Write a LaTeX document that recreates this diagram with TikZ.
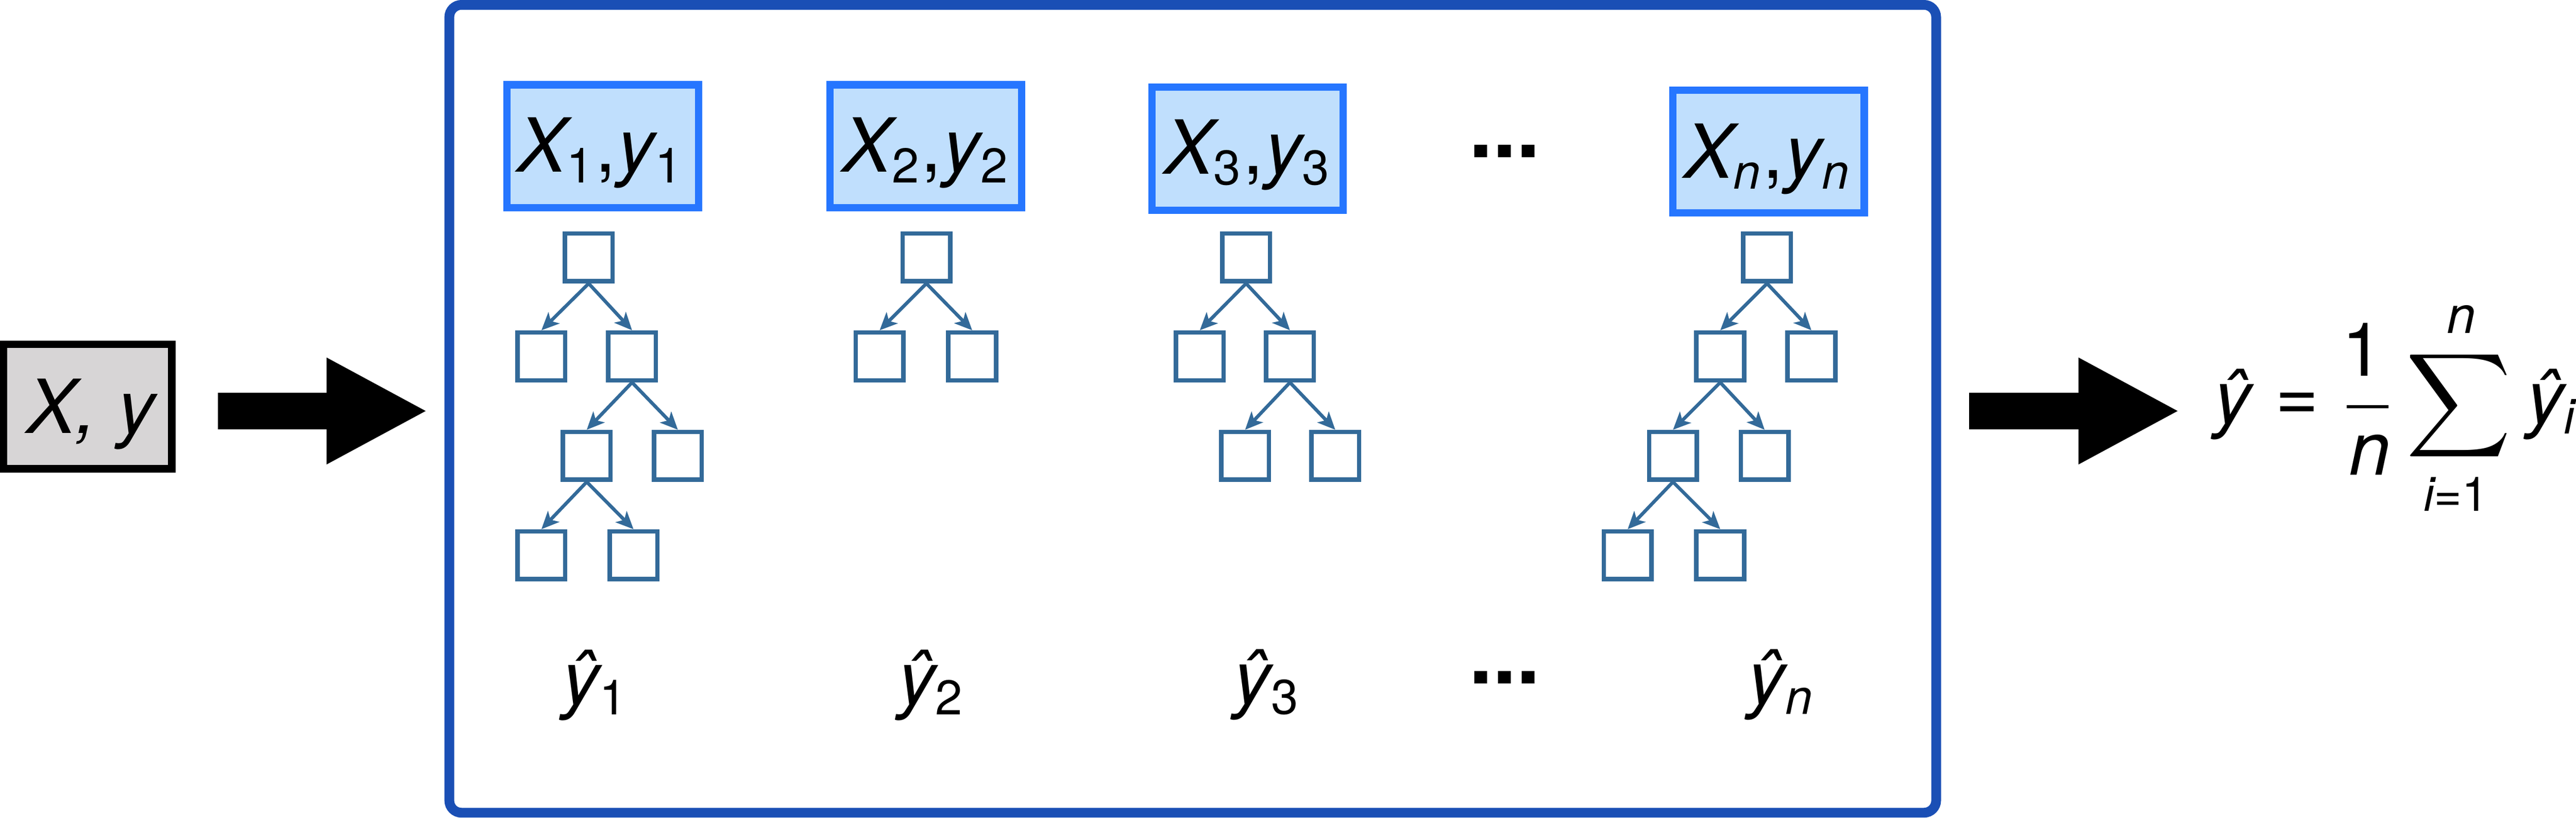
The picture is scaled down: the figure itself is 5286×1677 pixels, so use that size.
\documentclass[tikz,border=0pt]{standalone}
\usepackage{fontspec}
\usepackage{graphicx}
\setmainfont{TeX Gyre Heros}
\usetikzlibrary{arrows.meta}
\definecolor{treeblue}{HTML}{336A99}
\definecolor{bigblue}{HTML}{1A4FB5}
\definecolor{xfill}{HTML}{C0DFFD}
\definecolor{xborder}{HTML}{2676FF}
\definecolor{grayfill}{HTML}{D7D5D6}
\newcommand\mainsz{\fontsize{15.3pt}{18pt}\selectfont}
\newcommand\subsc[1]{\raisebox{-2.2pt}{\fontsize{10pt}{12pt}\selectfont #1}}
\newcommand\pair[1]{\mainsz\itshape X\subsc{\upshape #1}\upshape\kern0.4pt,\kern0.3pt\itshape y\subsc{\upshape #1}}
\newcommand\pairn{\mainsz\itshape X\subsc{n}\upshape\kern0.4pt,\kern0.3pt\itshape y\subsc{n}}
\begin{document}
\begin{tikzpicture}[x=0.1pt,y=-0.1pt,
  leaf/.style={draw=treeblue,line width=0.9pt,minimum size=9.8pt,inner sep=0pt},
  tarrow/.style={draw=treeblue,line width=0.7pt,-{Stealth[length=3.6pt,width=3.2pt,inset=0.9pt]}},
  xbox/.style={draw=xborder,fill=xfill,line width=1.5pt,minimum width=39.3pt,minimum height=25.2pt,inner sep=0pt},
  lbl/.style={inner sep=0pt,text=black},
  fat/.style={line width=7.5pt,-{Triangle[length=20.8pt,width=20.3pt]}}]
\useasboundingbox (0,0) rectangle (5286,1677);
% input
\node[draw=black,fill=grayfill,line width=1.5pt,minimum width=34.5pt,minimum height=25.5pt,inner sep=0pt] (in) at (180,834) {};
\node[lbl] (inl) at (186,849) {\mainsz\itshape X, y};
% big box
\draw[bigblue,line width=2pt,rounded corners=2.5pt] (922,10) rectangle (3973,1667);
% arrows
\coordinate (a1s) at (447,843);
\coordinate (a1e) at (878,843);
\coordinate (a2s) at (4041,843);
\coordinate (a2e) at (4473,843);
\draw[fat] (a1s) -- (a1e);
\draw[fat] (a2s) -- (a2e);
% sample boxes
\node[xbox] (b1) at (1237,300) {};
\node[xbox] (b2) at (1900,300) {};
\node[xbox] (b3) at (2560,305) {};
\node[xbox] (bn) at (3629,311) {};
\node[lbl] (l1) at (1230,314) {\pair{1}};
\node[lbl] (l2) at (1898,314) {\pair{2}};
\node[lbl] (l3) at (2558,318) {\pair{3}};
\node[lbl] (ln) at (3625,326) {\pairn};
\node[lbl] (dt) at (3088,310) {\fontsize{17.5pt}{20pt}\selectfont\bfseries ...};
% tree 1
\node[leaf] (t1r) at (1208,528) {};
\node[leaf] (t1a) at (1111,731) {};
\node[leaf] (t1b) at (1297,731) {};
\node[leaf] (t1c) at (1204,935) {};
\node[leaf] (t1d) at (1391,935) {};
\node[leaf] (t1e) at (1111,1139) {};
\node[leaf] (t1f) at (1300,1139) {};
\draw[tarrow] (t1r.south) -- (t1a.north);
\draw[tarrow] (t1r.south) -- (t1b.north);
\draw[tarrow] (t1b.south) -- (t1c.north);
\draw[tarrow] (t1b.south) -- (t1d.north);
\draw[tarrow] (t1c.south) -- (t1e.north);
\draw[tarrow] (t1c.south) -- (t1f.north);
% tree 2
\node[leaf] (t2r) at (1901,528) {};
\node[leaf] (t2a) at (1805,731) {};
\node[leaf] (t2b) at (1995,731) {};
\draw[tarrow] (t2r.south) -- (t2a.north);
\draw[tarrow] (t2r.south) -- (t2b.north);
% tree 3
\node[leaf] (t3r) at (2557,528) {};
\node[leaf] (t3a) at (2462,731) {};
\node[leaf] (t3b) at (2647,731) {};
\node[leaf] (t3c) at (2555,935) {};
\node[leaf] (t3d) at (2740,935) {};
\draw[tarrow] (t3r.south) -- (t3a.north);
\draw[tarrow] (t3r.south) -- (t3b.north);
\draw[tarrow] (t3b.south) -- (t3c.north);
\draw[tarrow] (t3b.south) -- (t3d.north);
% tree n
\node[leaf] (tnr) at (3626,528) {};
\node[leaf] (tna) at (3530,731) {};
\node[leaf] (tnb) at (3717,731) {};
\node[leaf] (tnc) at (3433,935) {};
\node[leaf] (tnd) at (3621,935) {};
\node[leaf] (tne) at (3340,1139) {};
\node[leaf] (tnf) at (3530,1139) {};
\draw[tarrow] (tnr.south) -- (tna.north);
\draw[tarrow] (tnr.south) -- (tnb.north);
\draw[tarrow] (tna.south) -- (tnc.north);
\draw[tarrow] (tna.south) -- (tnd.north);
\draw[tarrow] (tnc.south) -- (tne.north);
\draw[tarrow] (tnc.south) -- (tnf.north);
% predictions
\node[lbl] (p1) at (1220,1405) {\mainsz\itshape ŷ\subsc{\upshape 1}};
\node[lbl] (p2) at (1909,1405) {\mainsz\itshape ŷ\subsc{\upshape 2}};
\node[lbl] (p3) at (2598,1404) {\mainsz\itshape ŷ\subsc{\upshape 3}};
\node[lbl] (db) at (3088,1390) {\fontsize{17.5pt}{20pt}\selectfont\bfseries ...};
\node[lbl] (pn) at (3653,1404) {\mainsz\itshape ŷ\subsc{n}};
% formula
\node[lbl] (fy) at (4582,829) {\mainsz\itshape ŷ};
\node[lbl] (feq) at (4714,834.5) {\mainsz =};
\node[lbl] (fone) at (4848,717) {\mainsz 1};
\node[lbl] (fden) at (4863,933) {\mainsz\itshape n};
\coordinate (barL) at (4815,834);
\coordinate (barR) at (4901,834);
\draw[line width=0.6pt] (barL) -- (barR);
\node[lbl] (fsum) at (5045,832) {\scalebox{1.49}{$\displaystyle\sum$}};
\node[lbl] (ftop) at (5051,655) {\fontsize{10.6pt}{12pt}\selectfont\itshape n};
\node[lbl] (fbot) at (5040,1013) {\fontsize{9.8pt}{12pt}\selectfont\itshape i\upshape =1};
\node[lbl] (fyi) at (5234,829) {\mainsz\itshape ŷ\subsc{i}};
\end{tikzpicture}
\end{document}
